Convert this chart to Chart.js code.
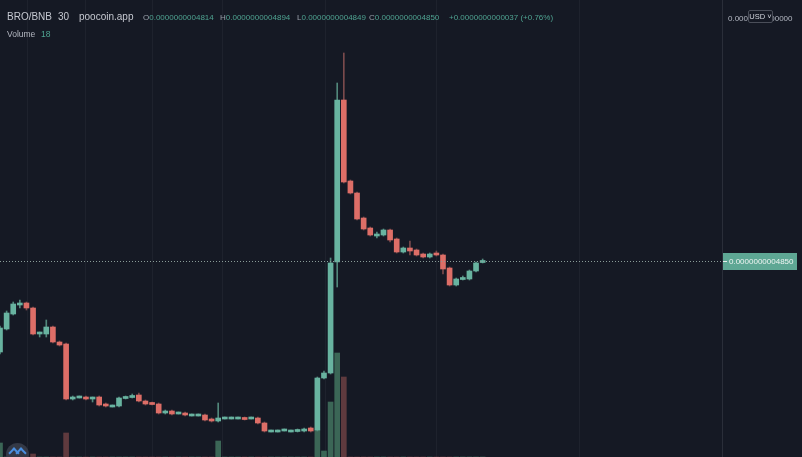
<!DOCTYPE html>
<html>
<head>
<meta charset="utf-8">
<script src="https://cdn.jsdelivr.net/npm/chart.js@4.4.0/dist/chart.umd.min.js"></script>
<style>
    body { margin: 0; background: #151924; }
    #wrap { position: relative; width: 802px; height: 457px; overflow: hidden; background: #151924; }
    #myChart { position: absolute; left: 0; top: 0; }
    .t { position: absolute; white-space: nowrap; line-height: 1; font-family: "Liberation Sans", Arial, sans-serif; }
    .title { font-size: 10px; color: #c5c8d0; top: 12px; }
    .ohlc { font-size: 8px; top: 14px; color: #9aa0ab; }
    .ohlc b { font-weight: normal; color: #4fa391; }
    .vol { font-size: 8.5px; top: 30px; color: #b4b8c2; }
    .axis { font-size: 8px; top: 15px; color: #b4b8c2; }
    #usd { position: absolute; left: 748px; top: 10px; width: 23px; height: 11px; border: 1px solid #4a4e59;
        border-radius: 2px; background: #151924; color: #d1d4dc; font: 7.5px "Liberation Sans", Arial, sans-serif;
        line-height: 11px; text-align: center; }
    #logo { position: absolute; left: 6px; top: 443px; width: 23px; height: 23px; border-radius: 50%; background: #343946; }
    #logo i { position: absolute; top: 6px; width: 6px; height: 6px; border-left: 2px solid #4a8fe0;
        border-top: 2px solid #4a8fe0; transform: rotate(45deg); }
</style>
</head>
<body>
<div id="wrap">
    <canvas id="myChart" width="802" height="457"></canvas>
    <span class="t title" style="left:7px">BRO/BNB</span>
    <span class="t title" style="left:58px">30</span>
    <span class="t title" style="left:79px">poocoin.app</span>
    <span class="t ohlc" style="left:143px">O<b>0.0000000004814</b></span>
    <span class="t ohlc" style="left:220px">H<b>0.0000000004894</b></span>
    <span class="t ohlc" style="left:297px">L<b>0.0000000004849</b></span>
    <span class="t ohlc" style="left:369px">C<b>0.0000000004850</b></span>
    <span class="t ohlc" style="left:449px"><b>+0.0000000000037 (+0.76%)</b></span>
    <span class="t vol" style="left:7px">Volume</span>
    <span class="t vol" style="left:41px; color:#4fa391">18</span>
    <span class="t axis" style="left:728px">0.0000000000000</span>
    <div id="usd">USD ˅</div>
    <div id="logo"><i style="left:4px"></i><i style="left:11px"></i></div>
</div>
<script>
// prices in units of 1e-13 BNB, one 30m candle per entry
const opens = [3940, 4170, 4320, 4420, 4430, 4380, 4130, 4120, 4190, 4040,
    4020, 3470, 3490, 3490, 3480, 3490, 3420, 3400, 3400, 3480,
    3490, 3510, 3450, 3430, 3420, 3330, 3350, 3330, 3330, 3310,
    3310, 3310, 3270, 3250, 3280, 3280, 3280, 3280, 3280, 3280,
    3230, 3150, 3150, 3160, 3150, 3150, 3150, 3180, 3160, 3680,
    3730, 4840, 6460, 5650, 5530, 5280, 5180, 5110, 5110, 5160,
    5070, 4940, 4980, 4960, 4920, 4890, 4930, 4910, 4780, 4610,
    4670, 4670, 4750, 4840];
const highs = [4200, 4350, 4440, 4460, 4440, 4390, 4140, 4260, 4200, 4050,
    4030, 3500, 3500, 3500, 3490, 3500, 3430, 3410, 3490, 3500,
    3520, 3530, 3460, 3440, 3430, 3360, 3360, 3340, 3340, 3320,
    3320, 3320, 3280, 3430, 3290, 3290, 3290, 3290, 3290, 3290,
    3240, 3160, 3160, 3170, 3160, 3170, 3180, 3190, 3690, 3750,
    4880, 6630, 6930, 5660, 5540, 5290, 5190, 5140, 5170, 5170,
    5080, 4990, 5050, 4970, 4930, 4930, 4950, 4920, 4790, 4680,
    4700, 4760, 4840, 4870];
const lows = [3920, 4160, 4310, 4380, 4360, 4110, 4090, 4090, 4030, 4000,
    3460, 3460, 3480, 3460, 3440, 3400, 3390, 3390, 3390, 3470,
    3480, 3440, 3410, 3410, 3320, 3320, 3310, 3320, 3300, 3300,
    3300, 3250, 3240, 3240, 3270, 3270, 3270, 3260, 3270, 3220,
    3140, 3140, 3140, 3150, 3140, 3140, 3140, 3140, 3150, 3670,
    3720, 4590, 5630, 5520, 5260, 5160, 5100, 5080, 5100, 5040,
    4930, 4930, 4910, 4900, 4880, 4880, 4900, 4720, 4600, 4600,
    4660, 4660, 4740, 4830];
const closes = [4180, 4330, 4420, 4420, 4380, 4120, 4130, 4190, 4040, 4010,
    3470, 3490, 3490, 3470, 3480, 3410, 3400, 3400, 3480, 3490,
    3500, 3450, 3420, 3420, 3330, 3350, 3320, 3330, 3310, 3310,
    3310, 3260, 3250, 3280, 3280, 3280, 3280, 3270, 3280, 3230,
    3150, 3150, 3150, 3160, 3150, 3160, 3170, 3150, 3680, 3730,
    4830, 6460, 5640, 5530, 5270, 5170, 5110, 5110, 5160, 5060,
    4940, 4980, 4950, 4910, 4890, 4920, 4910, 4770, 4610, 4670,
    4680, 4750, 4830, 4850];
const volumes = [1.4, 0, 0, 0, 0, 0.3, 0, 0, 0, 0,
    2.4, 0, 0, 0, 0, 0, 0, 0, 0, 0,
    0, 0, 0, 0, 0, 0, 0, 0, 0, 0,
    0, 0, 0, 1.6, 0, 0, 0, 0, 0, 0,
    0, 0, 0, 0, 0, 0, 0, 0, 2.7, 0.6,
    5.5, 10.4, 8.0, 0, 0, 0, 0, 0, 0, 0,
    0, 0, 0, 0, 0, 0, 0, 0, 0, 0,
    0, 0, 0, 0];
// candle positions of the time grid lines
const gridCandles = [4.1, 12.9, 23, 33.6, 49.2, 66, 87.7];
const lastPriceText = "0.0000000004850";

const upColor = "#68b3a0";
const downColor = "#dd6e67";

const isUp = opens.map((o, i) => closes[i] >= o);

const wickData = opens.map((o, i) => ({ x: i, y: [lows[i], highs[i]] }));
const bodyData = opens.map((o, i) => {
    const c = closes[i];
    if (Math.abs(c - o) < 20) {
        const mid = (o + c) / 2;
        return { x: i, y: [mid - 10, mid + 10] };
    }
    return { x: i, y: [o, c] };
});
const volumeData = volumes.map((v, i) => ({ x: i, y: v }));

const lastPricePlugin = {
    id: "lastPrice",
    afterDatasetsDraw(chart) {
        const { ctx, chartArea, scales } = chart;
        const y = Math.round(scales.y.getPixelForValue(closes[closes.length - 1])) + 0.5;
        ctx.save();
        ctx.strokeStyle = "#8a9c98";
        ctx.lineWidth = 1;
        ctx.setLineDash([1, 2]);
        ctx.beginPath();
        ctx.moveTo(chartArea.left, y);
        ctx.lineTo(chartArea.right, y);
        ctx.stroke();
        ctx.setLineDash([]);
        ctx.fillStyle = "#5ea794";
        ctx.fillRect(chartArea.right + 1, y - 8.5, 74, 17);
        ctx.strokeStyle = "#e6efec";
        ctx.beginPath();
        ctx.moveTo(chartArea.right + 1, y);
        ctx.lineTo(chartArea.right + 5, y);
        ctx.stroke();
        ctx.fillStyle = "#eef4f2";
        ctx.font = '8px "Liberation Sans", Arial, sans-serif';
        ctx.textBaseline = "middle";
        ctx.fillText(lastPriceText, chartArea.right + 7, y + 0.5);
        ctx.restore();
    },
};

const ctx = document.getElementById("myChart");

new Chart(ctx, {
    type: "bar",
    data: {
        datasets: [
            {
                label: "bodies",
                data: bodyData,
                backgroundColor: isUp.map((u) => (u ? upColor : downColor)),
                barThickness: 5,
                grouped: false,
                order: 1,
                yAxisID: "y",
            },
            {
                label: "wicks",
                data: wickData,
                backgroundColor: isUp.map((u) => (u ? "#52877b" : "#7a4a4c")),
                barThickness: 1,
                grouped: false,
                order: 2,
                yAxisID: "y",
            },
            {
                label: "Volume",
                data: volumeData,
                backgroundColor: isUp.map((u) => (u ? "#3b6656" : "#5f3a3e")),
                barThickness: 5,
                grouped: false,
                order: 3,
                yAxisID: "v",
            },
        ],
    },
    options: {
        responsive: false,
        animation: false,
        devicePixelRatio: 1,
        layout: { padding: 0 },
        plugins: { legend: { display: false }, tooltip: { enabled: false } },
        scales: {
            x: {
                type: "linear",
                min: 0,
                max: 109.2,
                offset: false,
                border: { display: false },
                grid: { color: "#1e222d", drawTicks: false, offset: false },
                ticks: { display: false },
                afterBuildTicks: (s) => {
                    s.ticks = gridCandles.map((v) => ({ value: v }));
                },
                afterFit: (s) => {
                    s.height = 0;
                },
            },
            y: {
                position: "right",
                min: 2890,
                max: 7460,
                grid: { display: false },
                border: { color: "#2a2e39" },
                ticks: { display: false },
                afterFit: (s) => {
                    s.width = 80;
                },
            },
            v: {
                display: false,
                min: 0,
                max: 45.7,
            },
        },
    },
    plugins: [lastPricePlugin],
});
</script>
</body>
</html>
